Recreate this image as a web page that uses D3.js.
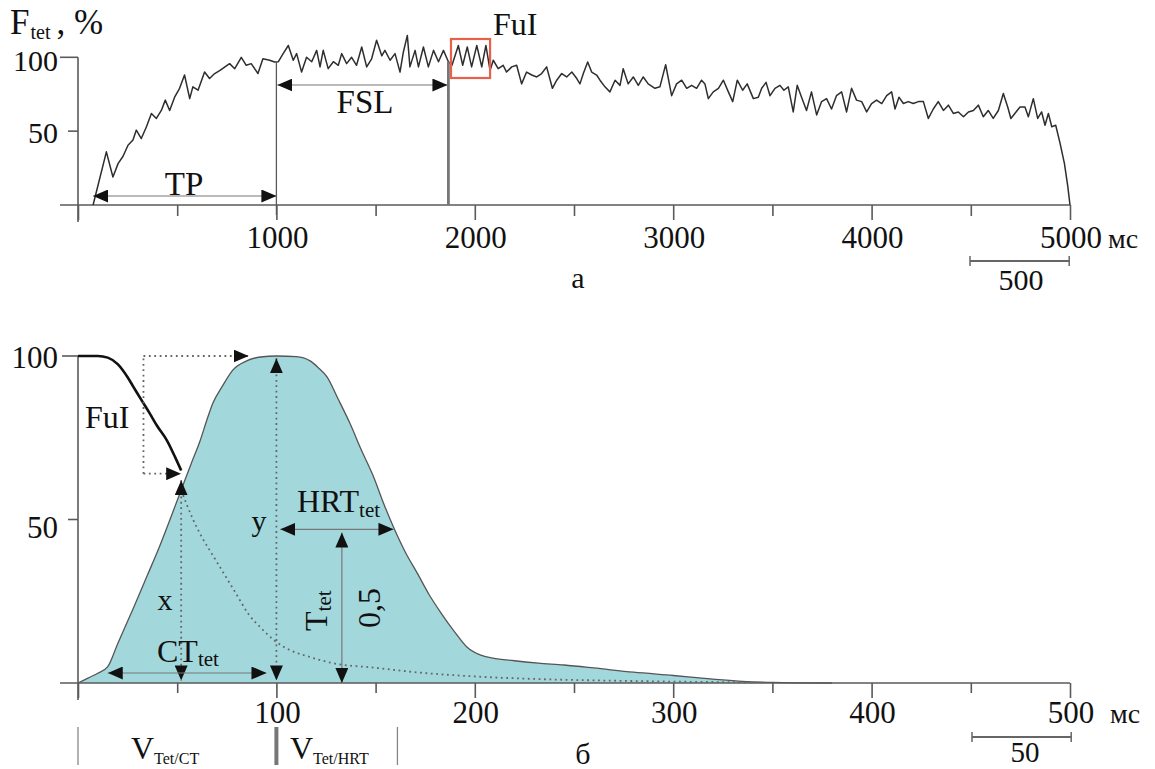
<!DOCTYPE html>
<html><head><meta charset="utf-8">
<script src="https://cdn.jsdelivr.net/npm/d3@7"></script>
<style>
html,body{margin:0;padding:0;background:#fff;}
svg{display:block;font-family:"Liberation Serif","Times New Roman",serif;}
</style></head>
<body>
<svg id="c" width="1155" height="769"></svg>
<script>
// ---------- DATA ----------
// Panel a: tetanic force trace (time, ms / force, %)
const topTimes = [76,143,176,202,227,252,277,294,319,345,370,395,420,440,462,487,512,537,563,579,605,638,663,689,714,739,764,790,823,848,873,907,932,966,991,1010,1034,1060,1085,1102,1127,1152,1178,1203,1220,1236,1261,1287,1312,1329,1354,1379,1404,1430,1455,1480,1505,1531,1547,1573,1598,1623,1640,1660,1673,1699,1716,1741,1766,1792,1817,1842,1867,1885,1917,1939,1962,1984,2010,2035,2056,2077,2093,2118,2143,2160,2186,2211,2236,2261,2287,2312,2337,2362,2391,2413,2438,2463,2489,2514,2530,2547,2569,2589,2614,2631,2656,2681,2707,2732,2748,2773,2799,2824,2849,2874,2908,2933,2962,2992,3017,3043,3068,3093,3118,3143,3160,3177,3202,3228,3253,3278,3300,3323,3350,3373,3404,3429,3446,3468,3488,3513,3538,3558,3580,3605,3625,3647,3672,3697,3723,3748,3773,3798,3823,3849,3874,3899,3924,3950,3975,4000,4025,4051,4076,4101,4118,4138,4160,4185,4210,4236,4261,4286,4311,4336,4362,4387,4412,4437,4463,4488,4513,4538,4563,4588,4613,4639,4664,4686,4702,4722,4748,4773,4790,4815,4837,4857,4874,4891,4908,4928,4950,4972,4989,5000];
const topValues = [0,36,19,28,33,40.5,44,50.7,45,53,62,58.6,64,71,64,73,79,88,72,80,77.7,90,85.6,89,91,93.4,95.7,92.3,100,94.6,95.7,89,99,98,96.8,97,102.5,108,98,102.5,90,100,97,104.7,93.5,104.7,92.3,97,94.6,102.5,95.7,100,94.6,107,93.5,99,111.5,101,104.7,98,102.5,90,103.6,114.8,93.5,104.7,93.5,107,93.5,104.7,97,104.7,97,94.6,108,94.6,107,93.5,108,93.5,108,91,98,92.3,94.6,90,93.5,94.6,82,90,88,86.7,89,93.5,79,84.5,89,86.7,90,85.6,82,89,96.8,90,88,84.5,80,76.6,84.5,81,92.3,82,86.7,81,86.7,82,79,80,95,74,82,84.5,79,81,79,84.5,82,72,76.6,79,84.5,76.6,70,84.5,77.7,82,72,73,79,83,74,79,81,77.7,80,63,81,73,64,76.6,61,70,72,65,74,76.6,63,79,71,70,63,68.7,71,68.7,74,76.6,65,73,68.7,70,68.7,70,70,58.6,65,70,64,67.6,62,63,59.7,63,64,67.6,59.7,64,58.6,64,75.5,66.4,58.6,62,66.4,66.4,59.7,72,58.6,63,54,62,53,54,41.7,28,12.4,0];
const topMajorTicks = [0,1000,2000,3000,4000,5000];
const topMinorTicks = [500,1500,2500,3500,4500];
const topTickLabels = ["1000","2000","3000","4000","5000"];
const topYTicks = [100,50];
const markTP = [76,1000];      // TP interval
const markFSL = [1000,1867];   // FSL interval
const markFuI = [1885,2077];   // FuI window (red box)

// Panel б: single contraction (time, ms / force, %)
const botTimes = [0,5,10,15,20,28,35,41,47,52,57,61.5,65,68,73,78,85,92,100,110,117,121,125.5,131,137,143,149,154,159,165,171,177,183,190,196,203,209,220,232,245,260,280,300,320,335,350,380];
const botValues = [0,1.5,3,5,12,23,33,41.6,51,59,67,74,80.5,85.6,91,95.7,98.5,99.7,100,99.8,98.5,96.5,93.6,87,79.5,71,63,55,47.7,40,33.6,27,21.4,15.5,11,8.5,7.6,6.8,6.1,5.5,4.6,3.3,2.3,1.2,0.5,0.2,0];
// FuI fused segment (black curve)
const fuiTimes = [0,10,15,20,25,28,32,36,40,45,49,52];
const fuiValues = [100,100,99.5,97.5,93.5,90.5,86.5,82.6,78.5,74,69,65];
// relaxation of a single twitch (dotted)
const decayTimes = [52,58,63,68,74,80,86,92,99,107,115,129,149,172,200,232,270,320,340];
const decayValues = [59,50,44,39,33,27,21,17,13,10,8.3,6,4.7,3.2,2,1.2,0.7,0.3,0.2];
const botMajorTicks = [0,100,200,300,400,500];
const botMinorTicks = [50,150,250,350,450];
const botTickLabels = ["100","200","300","400","500"];
const botYTicks = [100,50];
const markCT = [15,95];     // CT_tet interval
const markX = 52, markY = 100, markHRT = [102,159], markHalf = 133, halfLevel = 47;
const dotBoxLeft = 33, dotBoxTopEnd = 86, dotBoxLow = 64;
const vBoundaries = [0,100,161];

// ---------- DRAW ----------
const svg = d3.select("#c");
const AX = "#5a5a5a", TXT = "#111";
const defs = svg.append("defs");
defs.append("marker").attr("id","ah").attr("viewBox","0 0 15 13")
  .attr("markerUnits","userSpaceOnUse").attr("markerWidth",15).attr("markerHeight",13)
  .attr("refX",15).attr("refY",6.5).attr("orient","auto-start-reverse")
  .append("path").attr("d","M0,0L15,6.5L0,13Z").attr("fill","#111");

function txt(g,x,y,s,size,anchor){
  return g.append("text").attr("x",x).attr("y",y).attr("font-size",size)
    .attr("text-anchor",anchor||"start").attr("fill",TXT).text(s);
}

// ===== Panel a =====
const xT = d3.scaleLinear().domain([0,5000]).range([78,1070]);
const yT = d3.scaleLinear().domain([0,100]).range([205,57.3]);
const gT = svg.append("g");

// axes
gT.append("line").attr("x1",60).attr("x2",xT(5000)).attr("y1",yT(0)).attr("y2",yT(0)).attr("stroke",AX).attr("stroke-width",1.6);
gT.append("line").attr("x1",xT(0)).attr("x2",xT(0)).attr("y1",yT(100)).attr("y2",222).attr("stroke",AX).attr("stroke-width",1.6);
const axMajT = gT.append("g").attr("transform",`translate(0,${yT(0)})`)
  .call(d3.axisBottom(xT).tickValues(topMajorTicks).tickSize(15).tickSizeOuter(0).tickFormat(""));
const axMinT = gT.append("g").attr("transform",`translate(0,${yT(0)})`)
  .call(d3.axisBottom(xT).tickValues(topMinorTicks).tickSize(11).tickSizeOuter(0).tickFormat(""));
[axMajT,axMinT].forEach(a=>{a.select(".domain").remove();a.selectAll("line").attr("stroke",AX).attr("stroke-width",1.6);});
topYTicks.forEach(v=>{
  gT.append("line").attr("x1",xT(0)-(v===100?18:10)).attr("x2",xT(0)).attr("y1",yT(v)).attr("y2",yT(v)).attr("stroke",AX).attr("stroke-width",1.6);
  txt(gT,58,yT(v)+(v===100?14:12),String(v),30,"end");
});
topTickLabels.forEach((s,i)=>txt(gT,xT(topMajorTicks[i+1])+1,248,s,31,"middle"));
txt(gT,1108,248,"мс",28,"start");

// axis title
const ft = gT.append("text").attr("x",10).attr("y",34).attr("fill",TXT).attr("font-size",35);
ft.append("tspan").text("F");
ft.append("tspan").attr("font-size",20).attr("dy",5).attr("dx",1).text("tet");
ft.append("tspan").attr("dy",-5).attr("dx",6).text(", %");

// trace
const topData = topTimes.map((t,i)=>[t,topValues[i]]);
gT.append("path").datum(topData).attr("fill","none").attr("stroke","#2e2e2e").attr("stroke-width",1.5)
  .attr("stroke-linejoin","round")
  .attr("d",d3.line().x(d=>xT(d[0])).y(d=>yT(d[1])));

// markers
gT.append("line").attr("x1",xT(1000)).attr("x2",xT(1000)).attr("y1",yT(97)).attr("y2",215).attr("stroke",AX).attr("stroke-width",1.3);
gT.append("line").attr("x1",xT(markFSL[1])).attr("x2",xT(markFSL[1])).attr("y1",yT(97)).attr("y2",yT(0)).attr("stroke","#777").attr("stroke-width",2.8);
gT.append("line").attr("x1",xT(markTP[0])).attr("x2",xT(markTP[1])).attr("y1",196).attr("y2",196)
  .attr("stroke","#777").attr("stroke-width",1.1).attr("marker-start","url(#ah)").attr("marker-end","url(#ah)");
gT.append("line").attr("x1",xT(markFSL[0])+1).attr("x2",xT(markFSL[1])-1).attr("y1",85).attr("y2",85)
  .attr("stroke","#777").attr("stroke-width",1.1).attr("marker-start","url(#ah)").attr("marker-end","url(#ah)");
txt(gT,184,195,"TP",33,"middle");
txt(gT,365,113,"FSL",33,"middle");
gT.append("rect").attr("x",xT(markFuI[0])-1).attr("y",39).attr("width",xT(markFuI[1])-xT(markFuI[0])+1).attr("height",39)
  .attr("fill","none").attr("stroke","#e8604a").attr("stroke-width",2.2);
txt(gT,493,35,"FuI",32,"start");
// scale bar 500
gT.append("line").attr("x1",970).attr("x2",970+xT(500)-xT(0)).attr("y1",261).attr("y2",261).attr("stroke","#666").attr("stroke-width",2);
[970,970+xT(500)-xT(0)].forEach(x=>gT.append("line").attr("x1",x).attr("x2",x).attr("y1",256).attr("y2",266).attr("stroke","#666").attr("stroke-width",1.5));
txt(gT,1021,290,"500",30,"middle");
txt(gT,578,288,"а",30,"middle");

// ===== Panel б =====
const xB = d3.scaleLinear().domain([0,500]).range([78,1070]);
const yB = d3.scaleLinear().domain([0,100]).range([683,356]);
const gB = svg.append("g");
const botData = botTimes.map((t,i)=>[t,botValues[i]]);
gB.append("path").datum(botData).attr("fill","#a2d8dc").attr("stroke","none")
  .attr("d",d3.area().x(d=>xB(d[0])).y0(yB(0)).y1(d=>yB(d[1])).curve(d3.curveMonotoneX));
gB.append("path").datum(botData).attr("fill","none").attr("stroke","#555").attr("stroke-width",1.3)
  .attr("d",d3.line().x(d=>xB(d[0])).y(d=>yB(d[1])).curve(d3.curveMonotoneX));

// axes
gB.append("line").attr("x1",60).attr("x2",xB(500)).attr("y1",yB(0)).attr("y2",yB(0)).attr("stroke",AX).attr("stroke-width",1.6);
gB.append("line").attr("x1",xB(0)).attr("x2",xB(0)).attr("y1",yB(100)).attr("y2",700).attr("stroke",AX).attr("stroke-width",1.6);
const axMajB = gB.append("g").attr("transform",`translate(0,${yB(0)})`)
  .call(d3.axisBottom(xB).tickValues(botMajorTicks).tickSize(15).tickSizeOuter(0).tickFormat(""));
const axMinB = gB.append("g").attr("transform",`translate(0,${yB(0)})`)
  .call(d3.axisBottom(xB).tickValues(botMinorTicks).tickSize(10).tickSizeOuter(0).tickFormat(""));
[axMajB,axMinB].forEach(a=>{a.select(".domain").remove();a.selectAll("line").attr("stroke",AX).attr("stroke-width",1.6);});
botYTicks.forEach(v=>{
  gB.append("line").attr("x1",xB(0)-(v===100?16:10)).attr("x2",xB(0)).attr("y1",yB(v)).attr("y2",yB(v)).attr("stroke",AX).attr("stroke-width",1.6);
  txt(gB,58,yB(v)+(v===100?12:18),String(v),31,"end");
});
botTickLabels.forEach((s,i)=>txt(gB,xB(botMajorTicks[i+1])+1,723,s,31,"middle"));
txt(gB,1110,723,"мс",28,"start");

// FuI black curve
const fuiData = fuiTimes.map((t,i)=>[t,fuiValues[i]]);
gB.append("path").datum(fuiData).attr("fill","none").attr("stroke","#111").attr("stroke-width",2.6)
  .attr("d",d3.line().x(d=>xB(d[0])).y(d=>yB(d[1])).curve(d3.curveMonotoneX));
txt(gB,85,428,"FuI",32,"start");

// dotted relaxation curve
const decData = decayTimes.map((t,i)=>[t,decayValues[i]]);
const DOT = {stroke:"#666","stroke-width":1.8,"stroke-dasharray":"1.8,3.6"};
function dotted(sel){ Object.entries(DOT).forEach(([k,v])=>sel.attr(k,v)); return sel; }
dotted(gB.append("path").datum(decData).attr("fill","none")
  .attr("d",d3.line().x(d=>xB(d[0])).y(d=>yB(d[1])).curve(d3.curveMonotoneX)));

// dotted box with arrows
dotted(gB.append("path").attr("fill","none")
  .attr("d",`M${xB(dotBoxLeft)},${yB(dotBoxLow)}L${xB(dotBoxLeft)},${yB(100)}`));
dotted(gB.append("line").attr("x1",xB(dotBoxLeft)).attr("x2",xB(dotBoxTopEnd)).attr("y1",yB(100)).attr("y2",yB(100))).attr("marker-end","url(#ah)");
dotted(gB.append("line").attr("x1",xB(dotBoxLeft)).attr("x2",xB(markX)).attr("y1",yB(dotBoxLow)).attr("y2",yB(dotBoxLow))).attr("marker-end","url(#ah)");

// vertical dotted lines x and y
dotted(gB.append("line").attr("x1",xB(markX)).attr("x2",xB(markX)).attr("y1",yB(62)).attr("y2",yB(0.8)))
  .attr("marker-start","url(#ah)").attr("marker-end","url(#ah)");
dotted(gB.append("line").attr("x1",xB(markY)).attr("x2",xB(markY)).attr("y1",yB(99.3)).attr("y2",yB(0.8)))
  .attr("marker-start","url(#ah)").attr("marker-end","url(#ah)");
txt(gB,165,610,"x",30,"middle");
txt(gB,259,531,"y",30,"middle");

// CT arrow
gB.append("line").attr("x1",xB(markCT[0])).attr("x2",xB(markCT[1])).attr("y1",673).attr("y2",673)
  .attr("stroke","#777").attr("stroke-width",1.2).attr("marker-start","url(#ah)").attr("marker-end","url(#ah)");
const ct = gB.append("text").attr("x",157).attr("y",662).attr("font-size",32).attr("fill",TXT);
ct.append("tspan").text("CT"); ct.append("tspan").attr("font-size",21).attr("dy",4).text("tet");

// HRT arrow
gB.append("line").attr("x1",xB(markHRT[0])).attr("x2",xB(markHRT[1])).attr("y1",yB(halfLevel)).attr("y2",yB(halfLevel))
  .attr("stroke","#777").attr("stroke-width",1.2).attr("marker-start","url(#ah)").attr("marker-end","url(#ah)");
const hrt = gB.append("text").attr("x",297).attr("y",512).attr("font-size",32).attr("fill",TXT);
hrt.append("tspan").text("HRT"); hrt.append("tspan").attr("font-size",21).attr("dy",5).text("tet");

// 0,5 vertical arrow
gB.append("line").attr("x1",xB(markHalf)).attr("x2",xB(markHalf)).attr("y1",yB(halfLevel-1)).attr("y2",yB(0))
  .attr("stroke","#777").attr("stroke-width",1.2).attr("marker-start","url(#ah)").attr("marker-end","url(#ah)");
const tt = gB.append("text").attr("transform","translate(327,631) rotate(-90)").attr("font-size",32).attr("fill",TXT);
tt.append("tspan").text("T"); tt.append("tspan").attr("font-size",21).attr("dy",4).text("tet");
gB.append("text").attr("transform","translate(380,628) rotate(-90)").attr("font-size",32).attr("fill",TXT).text("0,5");

// V boundaries
vBoundaries.forEach((t,i)=>gB.append("line").attr("x1",xB(t)).attr("x2",xB(t)).attr("y1",727).attr("y2",765)
  .attr("stroke",i===1?"#777":"#888").attr("stroke-width",i===1?4:1.3));
const v1 = gB.append("text").attr("x",131).attr("y",759).attr("font-size",32).attr("fill",TXT);
v1.append("tspan").text("V"); v1.append("tspan").attr("font-size",16).attr("dy",5).text("Tet/CT");
const v2 = gB.append("text").attr("x",290).attr("y",759).attr("font-size",32).attr("fill",TXT);
v2.append("tspan").text("V"); v2.append("tspan").attr("font-size",16).attr("dy",5).text("Tet/HRT");

// scale bar 50
gB.append("line").attr("x1",972).attr("x2",972+xB(50)-xB(0)).attr("y1",737).attr("y2",737).attr("stroke","#666").attr("stroke-width",2);
[972,972+xB(50)-xB(0)].forEach(x=>gB.append("line").attr("x1",x).attr("x2",x).attr("y1",732).attr("y2",742).attr("stroke","#666").attr("stroke-width",1.5));
txt(gB,1025,762,"50",29,"middle");
txt(gB,583,764,"б",30,"middle");
</script>
</body></html>
